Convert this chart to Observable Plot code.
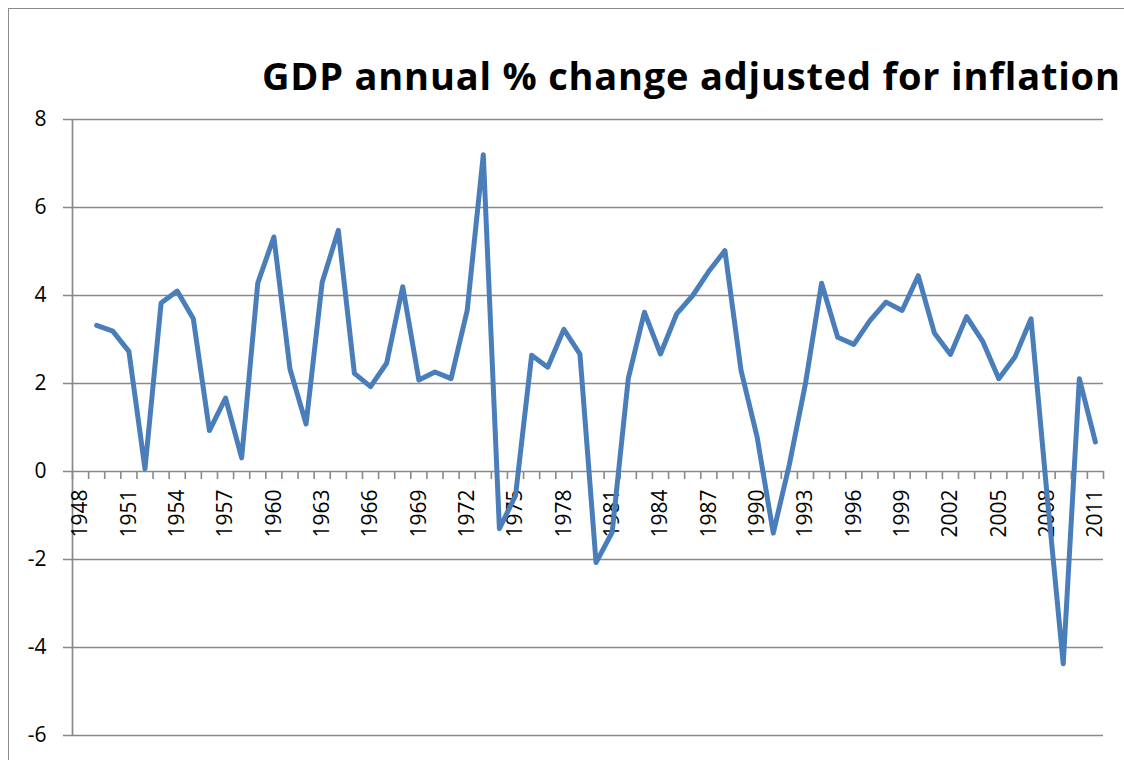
<!DOCTYPE html>
<html>
<head>
<meta charset="utf-8">
<script src="https://cdn.jsdelivr.net/npm/d3@7"></script>
<script src="https://cdn.jsdelivr.net/npm/@observablehq/plot@0.6"></script>
<style>
  html, body { margin: 0; padding: 0; background: #fff; overflow: hidden; }
  #wrap { position: relative; width: 1124px; height: 760px; overflow: hidden; background: #fff; }
  #frame { position: absolute; left: 8px; top: 8px; width: 1140px; height: 800px; border: 1.5px solid #8a8a8a; box-sizing: border-box; }
  #title { position: relative; height: 100px; box-sizing: border-box; padding-top: 56px; padding-left: 262px;
           font-family: "Open Sans", sans-serif; font-weight: 700; font-size: 38px; letter-spacing: 0.8px; line-height: 1; white-space: nowrap; color: #000; }
  #chart { position: relative; }
</style>
</head>
<body>
<div id="wrap">
  <div id="frame"></div>
  <div id="title">GDP annual % change adjusted for inflation</div>
  <div id="chart"></div>
</div>
<script>
const years = [1949,1950,1951,1952,1953,1954,1955,1956,1957,1958,1959,1960,1961,1962,1963,1964,1965,1966,1967,1968,1969,1970,
  1971,1972,1973,1974,1975,1976,1977,1978,1979,1980,1981,1982,1983,1984,1985,1986,1987,1988,1989,1990,1991,1992,1993,1994,
  1995,1996,1997,1998,1999,2000,2001,2002,2003,2004,2005,2006,2007,2008,2009,2010,2011];
const gdpChange = [3.32,3.19,2.73,0.06,3.83,4.10,3.47,0.93,1.67,0.31,4.28,5.33,2.33,1.08,4.30,5.48,2.23,1.93,2.46,4.20,2.08,2.26,
  2.11,3.66,7.20,-1.30,-0.55,2.64,2.37,3.23,2.67,-2.07,-1.38,2.11,3.62,2.67,3.58,4.00,4.55,5.02,2.30,0.78,-1.40,0.16,2.00,4.28,
  3.05,2.89,3.43,3.85,3.66,4.45,3.15,2.66,3.52,2.96,2.11,2.60,3.47,-0.55,-4.37,2.11,0.67];
const categoryFirst = 1948;
const categoryLast = 2011;
const xLabels = [1948,1951,1954,1957,1960,1963,1966,1969,1972,1975,1978,1981,1984,1987,1990,1993,1996,1999,2002,2005,2008,2011];
const yTicks = [-6,-4,-2,0,2,4,6,8];

const data = years.map((y, i) => ({year: y, value: gdpChange[i]}));
const boundaries = d3.range(categoryFirst - 0.5, categoryLast + 1, 1);
const grid = "#898989";

const chart = Plot.plot({
  width: 1124,
  height: 660,
  marginTop: 19,
  marginBottom: 25,
  marginLeft: 72,
  marginRight: 21,
  style: {background: "transparent", fontFamily: "'Open Sans', sans-serif", color: "#000", overflow: "visible"},
  x: {domain: [categoryFirst - 0.5, categoryLast + 0.5], axis: null},
  y: {domain: [-6, 8], axis: null},
  marks: [
    Plot.ruleY(yTicks, {y: d => d, stroke: grid, strokeWidth: 1.7, insetLeft: -9}),
    Plot.ruleX([categoryFirst - 0.5], {stroke: grid, strokeWidth: 1.7}),
    Plot.ruleX(boundaries, {x: d => d, y1: 0, y2: 0, insetBottom: -8, stroke: grid, strokeWidth: 1.6}),
    Plot.text(yTicks, {x: categoryFirst - 0.5, y: d => d, text: d => String(d), textAnchor: "end", dx: -26, fontSize: 21, fill: "#000"}),
    Plot.text(xLabels, {x: d => d, y: 0, text: d => String(d), rotate: -90, textAnchor: "end", dy: 18, fontSize: 21, fill: "#000"}),
    Plot.line(data, {x: "year", y: "value", stroke: "#4a7ebb", strokeWidth: 5, strokeLinejoin: "round", strokeLinecap: "round"})
  ]
});
document.getElementById("chart").appendChild(chart);
</script>
</body>
</html>
